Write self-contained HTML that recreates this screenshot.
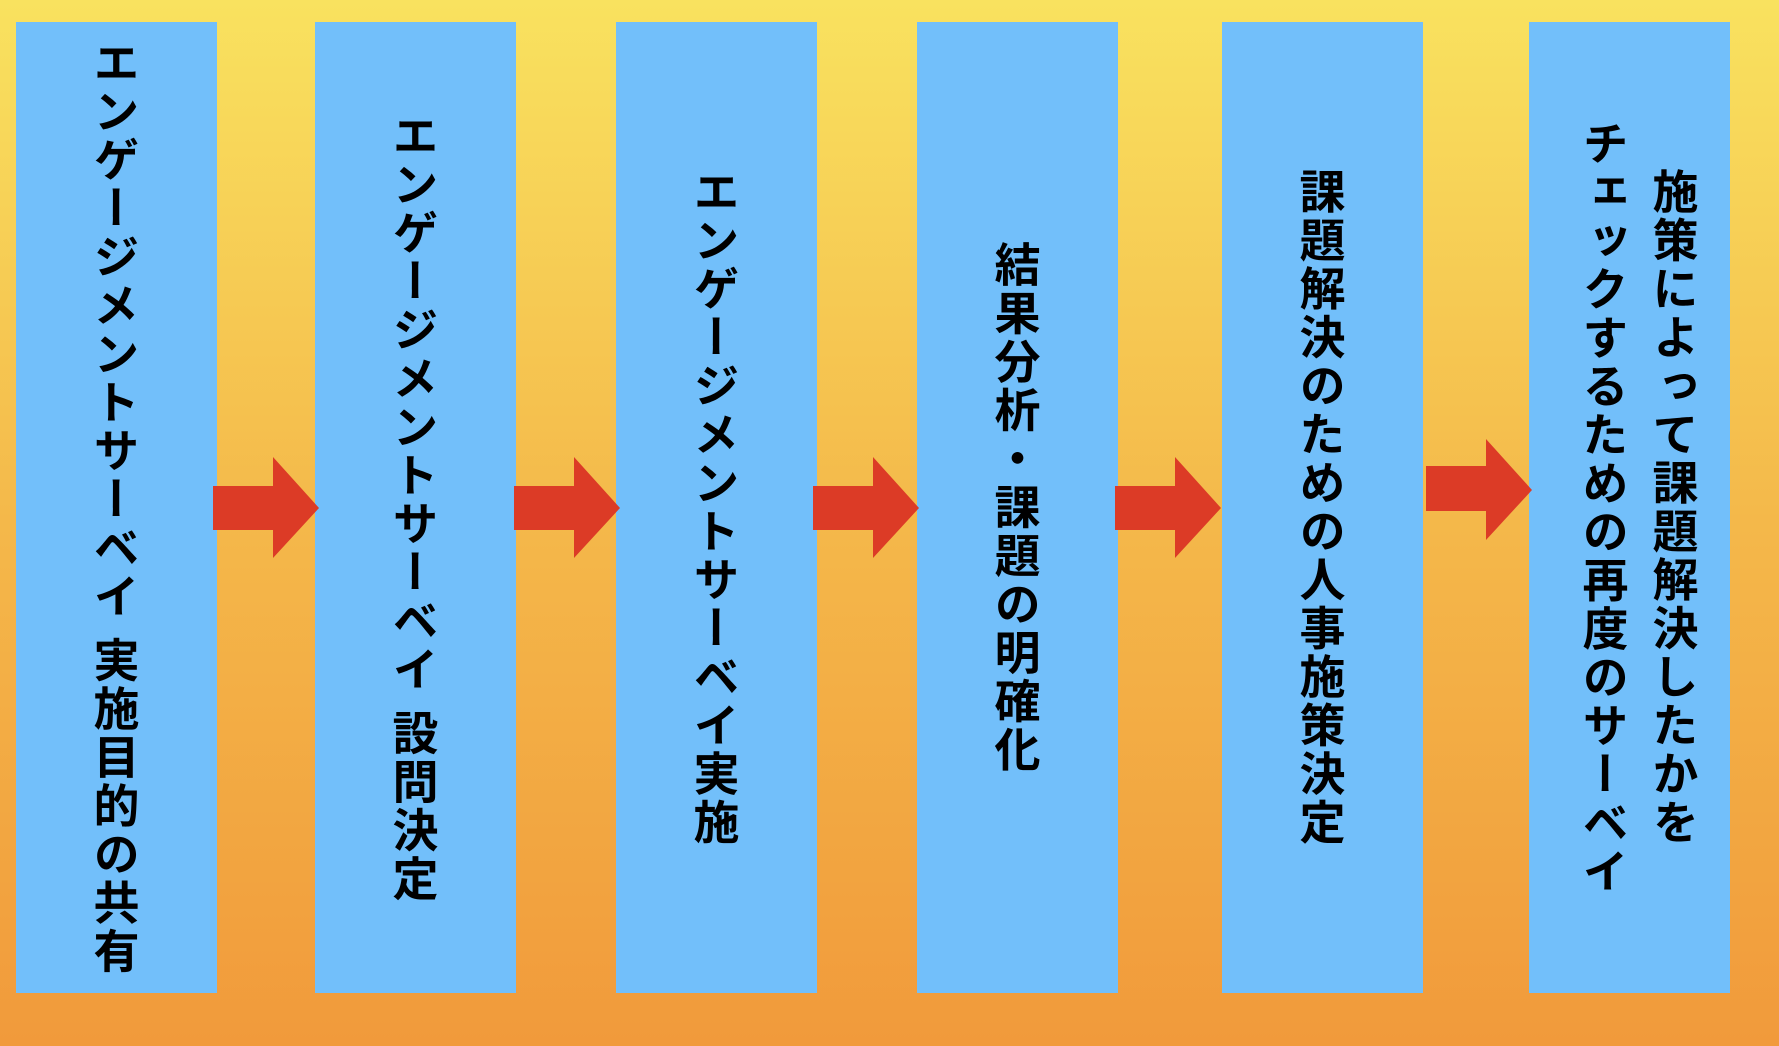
<!DOCTYPE html>
<html><head><meta charset="utf-8"><style>
html,body{margin:0;padding:0}
body{width:1779px;height:1046px;position:relative;overflow:hidden;background:linear-gradient(to bottom,#F9E25F 0%,#F4B84A 50%,#F19A3B 100%);font-family:"Liberation Sans","Noto Sans CJK JP",sans-serif}
.box{position:absolute;top:22px;height:971px;width:201px;background:#72BFFA;display:flex;align-items:center;justify-content:center}
.t{writing-mode:vertical-rl;font-weight:bold;font-size:46px;color:#000;line-height:70px;text-align:center;letter-spacing:2.5px;margin-right:6px;position:relative}
svg{position:absolute;left:0;top:0}
</style></head><body>
<div class="box" style="left:16px"><div class="t">エンゲージメントサーベイ 実施目的の共有</div></div>
<div class="box" style="left:315px"><div class="t">エンゲージメントサーベイ 設問決定</div></div>
<div class="box" style="left:616px"><div class="t">エンゲージメントサーベイ実施</div></div>
<div class="box" style="left:917px"><div class="t">結果分析・課題の明確化</div></div>
<div class="box" style="left:1222px"><div class="t">課題解決のための人事施策決定</div></div>
<div class="box" style="left:1529px"><div class="t" style="left:11px">施策によって課題解決したかを<br>チェックするための再度のサーベイ</div></div>
<svg width="1779" height="1046">
<g fill="#DC3B26">
<polygon points="213,486 273,486 273,457 319,508 273,558 273,530 213,530"/>
<polygon points="514,486 574,486 574,457 620,508 574,558 574,530 514,530"/>
<polygon points="813,486 873,486 873,457 919,508 873,558 873,530 813,530"/>
<polygon points="1115,486 1175,486 1175,457 1221,508 1175,558 1175,530 1115,530"/>
<polygon points="1426,466 1486,466 1486,439 1532,490 1486,540 1486,511 1426,511"/>
</g></svg>
</body></html>
